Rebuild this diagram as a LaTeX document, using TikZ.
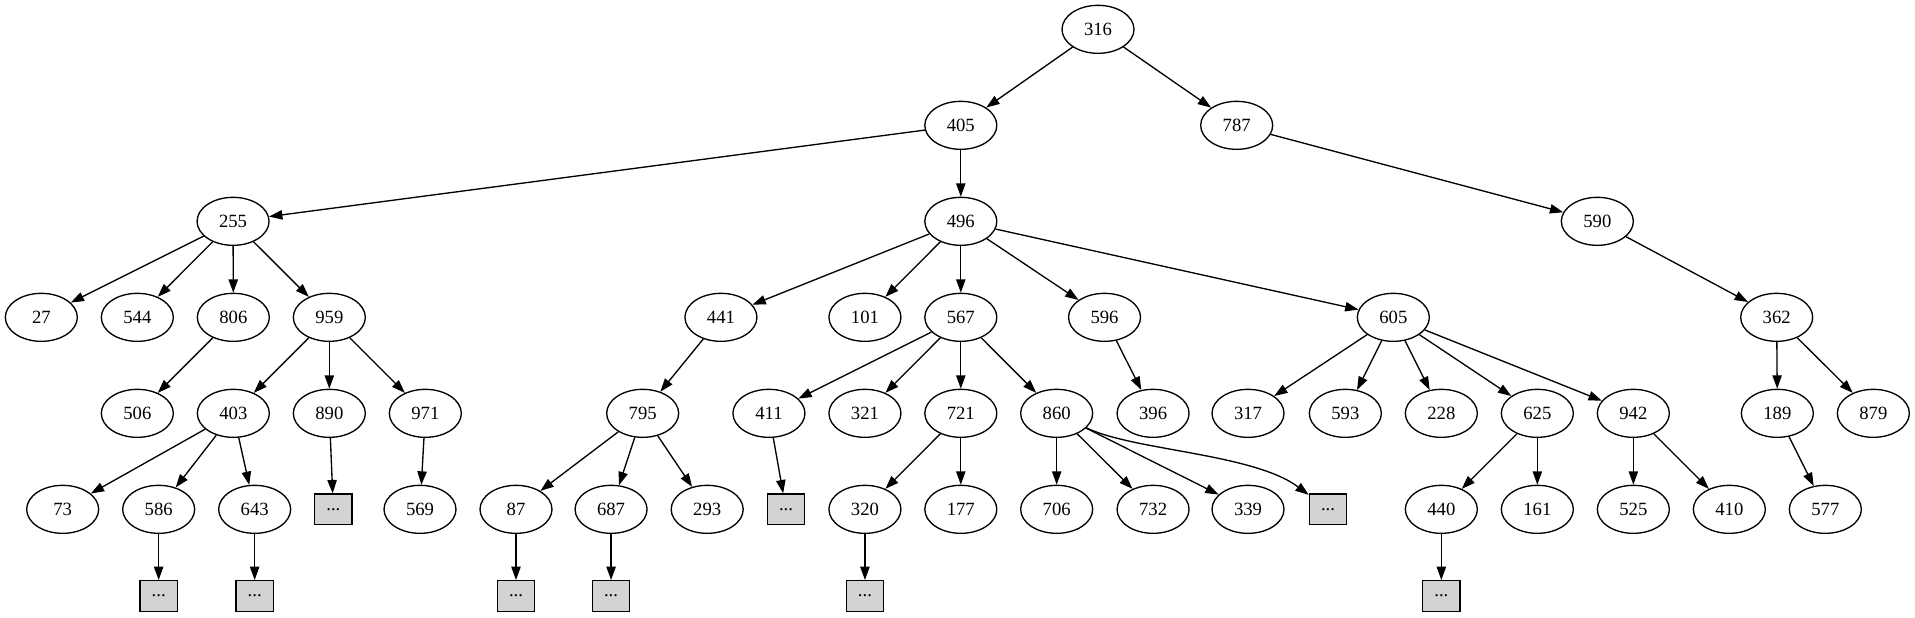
\documentclass[tikz,border=0pt]{standalone}
\usepackage{fontspec}
\setmainfont{Liberation Serif}
\usetikzlibrary{shapes.geometric,arrows.meta}
\definecolor{boxgray}{HTML}{D3D3D3}
\tikzset{
  nd/.style={ellipse,draw=black,line width=1pt,minimum width=54pt,minimum height=36pt,inner sep=0pt,font=\fontsize{14}{16}\selectfont},
  bx/.style={rectangle,draw=black,fill=boxgray,line width=1pt,minimum width=28pt,minimum height=23pt,inner sep=0pt,font=\fontsize{14}{16}\selectfont},
  edge/.style={line width=1pt,-{Triangle[length=10pt,width=7pt]}}
}
\begin{document}
\begin{tikzpicture}[x=1pt,y=-1pt]
\useasboundingbox (0,0) rectangle (1436.25,462.75);
% rank 0
\node[nd] (n316) at (823.5,22) {316};
% rank 1
\node[nd] (n405) at (720.6,94) {405};
\node[nd] (n787) at (927.5,94) {787};
% rank 2
\node[nd] (n255) at (174.8,166) {255};
\node[nd] (n496) at (720.6,166) {496};
\node[nd] (n590) at (1198,166) {590};
% rank 3
\node[nd] (n27) at (31,238) {27};
\node[nd] (n544) at (103,238) {544};
\node[nd] (n806) at (175,238) {806};
\node[nd] (n959) at (247,238) {959};
\node[nd] (n441) at (540.7,238) {441};
\node[nd] (n101) at (648.7,238) {101};
\node[nd] (n567) at (720.6,238) {567};
\node[nd] (n596) at (828.4,238) {596};
\node[nd] (n605) at (1045,238) {605};
\node[nd] (n362) at (1332.5,238) {362};
% rank 4
\node[nd] (n506) at (103,310) {506};
\node[nd] (n403) at (175,310) {403};
\node[nd] (n890) at (247,310) {890};
\node[nd] (n971) at (319,310) {971};
\node[nd] (n795) at (482,310) {795};
\node[nd] (n411) at (576.7,310) {411};
\node[nd] (n321) at (648.7,310) {321};
\node[nd] (n721) at (720.6,310) {721};
\node[nd] (n860) at (792.5,310) {860};
\node[nd] (n396) at (864.8,310) {396};
\node[nd] (n317) at (936,310) {317};
\node[nd] (n593) at (1009,310) {593};
\node[nd] (n228) at (1081,310) {228};
\node[nd] (n625) at (1153,310) {625};
\node[nd] (n942) at (1225,310) {942};
\node[nd] (n189) at (1333,310) {189};
\node[nd] (n879) at (1405,310) {879};
% rank 5
\node[nd] (n73) at (47,382) {73};
\node[nd] (n586) at (119,382) {586};
\node[nd] (n643) at (191,382) {643};
\node[bx] (b890) at (250,382) {...};
\node[nd] (n569) at (315,382) {569};
\node[nd] (n87) at (387,382) {87};
\node[nd] (n687) at (458.3,382) {687};
\node[nd] (n293) at (530.4,382) {293};
\node[bx] (b411) at (589.5,382) {...};
\node[nd] (n320) at (648.7,382) {320};
\node[nd] (n177) at (720.6,382) {177};
\node[nd] (n706) at (792.5,382) {706};
\node[nd] (n732) at (864.8,382) {732};
\node[nd] (n339) at (936,382) {339};
\node[bx] (b860) at (996,382) {...};
\node[nd] (n440) at (1081,382) {440};
\node[nd] (n161) at (1153,382) {161};
\node[nd] (n525) at (1225,382) {525};
\node[nd] (n410) at (1297,382) {410};
\node[nd] (n577) at (1369,382) {577};
% rank 6
\node[bx] (b586) at (119,447) {...};
\node[bx] (b643) at (191,447) {...};
\node[bx] (b87) at (387,447) {...};
\node[bx] (b687) at (458.3,447) {...};
\node[bx] (b320) at (648.7,447) {...};
\node[bx] (b440) at (1081,447) {...};
% edges
\foreach \a/\b in {n316/n405,n316/n787,n405/n255,n405/n496,n787/n590,
  n255/n27,n255/n544,n255/n806,n255/n959,
  n496/n441,n496/n101,n496/n567,n496/n596,n496/n605,
  n590/n362,n806/n506,n959/n403,n959/n890,n959/n971,n441/n795,
  n567/n411,n567/n321,n567/n721,n567/n860,n596/n396,
  n605/n317,n605/n593,n605/n228,n605/n625,n605/n942,
  n362/n189,n362/n879,n403/n73,n403/n586,n403/n643,
  n890/b890,n971/n569,n795/n87,n795/n687,n795/n293,n411/b411,
  n721/n320,n721/n177,n860/n706,n860/n732,n860/n339,
  n625/n440,n625/n161,n942/n525,n942/n410,n189/n577,
  n586/b586,n643/b643,n87/b87,n687/b687,n320/b320,n440/b440}
  \draw[edge] (\a) -- (\b);
\draw[edge] (n860) .. controls (850,338) and (940,340) .. (b860);
\end{tikzpicture}
\end{document}
